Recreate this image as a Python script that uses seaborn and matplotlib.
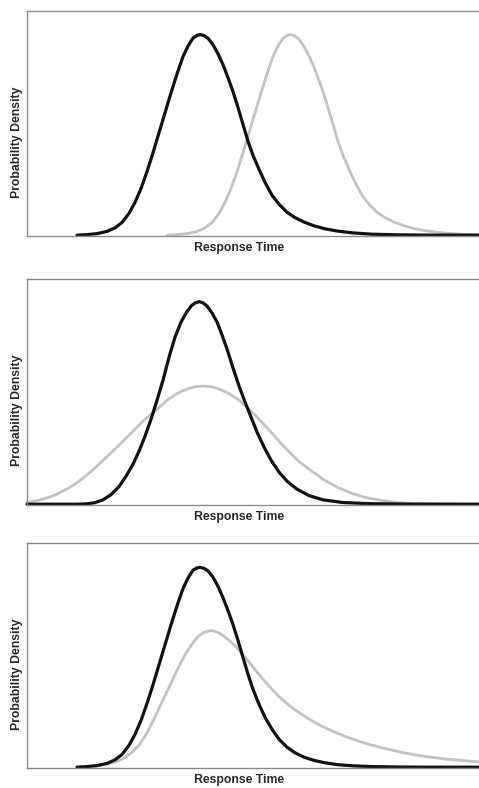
import matplotlib
matplotlib.use("Agg")
import matplotlib.pyplot as plt
import seaborn as sns

# ── curves (x = response time, y = density, arbitrary units)
# panel 1: the whole distribution shifts
p1_fast_x = [50, 60, 70, 80, 88, 95, 102, 108, 114, 120,
             126, 132, 138, 144, 150, 156, 161, 166, 170, 173,
             177, 181, 186, 191, 196, 201, 206, 211, 216, 221,
             226, 232, 238, 245, 252, 260, 268, 277, 287, 298,
             310, 325, 345, 370, 400, 453]
p1_fast_y = [0, 0.003, 0.008, 0.019, 0.037, 0.064, 0.11, 0.165, 0.235, 0.32,
             0.414, 0.515, 0.615, 0.715, 0.81, 0.897, 0.95, 0.989, 1.003, 1.007,
             1.002, 0.988, 0.955, 0.91, 0.855, 0.79, 0.72, 0.64, 0.555, 0.47,
             0.40, 0.33, 0.265, 0.2, 0.155, 0.115, 0.088, 0.066, 0.047, 0.032,
             0.021, 0.012, 0.005, 0.002, 0.0005, 0]
p1_slow_x = [140, 150, 160, 170, 178, 185, 192, 198, 204, 210,
             216, 222, 228, 234, 240, 246, 251, 256, 260, 263,
             267, 271, 276, 281, 286, 291, 296, 301, 306, 311,
             316, 322, 328, 335, 342, 350, 358, 367, 377, 388,
             400, 415, 435, 453]
p1_slow_y = [0, 0.003, 0.008, 0.019, 0.037, 0.064, 0.11, 0.165, 0.235, 0.32,
             0.414, 0.515, 0.615, 0.715, 0.81, 0.897, 0.95, 0.989, 1.003, 1.007,
             1.002, 0.988, 0.955, 0.91, 0.855, 0.79, 0.72, 0.64, 0.555, 0.47,
             0.40, 0.33, 0.265, 0.2, 0.155, 0.115, 0.088, 0.066, 0.047, 0.032,
             0.021, 0.012, 0.005, 0.0025]

# panel 2: same centre, larger spread
p2_fast_x = [0, 50, 60, 68, 76, 84, 92, 99, 106, 112,
             118, 124, 130, 136, 142, 148, 154, 159, 164, 168,
             172, 176, 180, 185, 190, 195, 200, 206, 212, 218,
             224, 230, 237, 244, 252, 260, 270, 282, 296, 315,
             340, 380, 453]
p2_fast_y = [0, 0, 0.002, 0.008, 0.022, 0.048, 0.088, 0.14, 0.2, 0.265,
             0.34, 0.425, 0.52, 0.62, 0.735, 0.835, 0.91, 0.955, 0.99, 1.005,
             1.012, 1.006, 0.99, 0.955, 0.91, 0.845, 0.775, 0.68, 0.59, 0.51,
             0.435, 0.36, 0.285, 0.22, 0.16, 0.115, 0.075, 0.043, 0.022, 0.009,
             0.003, 0.0005, 0]
p2_slow_x = [0, 10, 20, 30, 43, 55, 66, 78, 93, 105,
             117, 128, 140, 150, 160, 168, 176, 184, 192, 202,
             212, 222, 232, 242, 252, 262, 272, 284, 296, 310,
             325, 340, 355, 372, 390, 420, 453]
p2_slow_y = [0.008, 0.018, 0.032, 0.05, 0.085, 0.125, 0.172, 0.228, 0.3, 0.36,
             0.42, 0.465, 0.52, 0.553, 0.576, 0.587, 0.59, 0.587, 0.576, 0.553,
             0.52, 0.475, 0.425, 0.37, 0.315, 0.262, 0.213, 0.168, 0.125, 0.085,
             0.054, 0.032, 0.018, 0.008, 0.003, 0.001, 0]

# panel 3: longer right tail
p3_fast_x = [50, 60, 70, 80, 88, 95, 102, 108, 114, 120,
             126, 132, 138, 144, 150, 156, 161, 166, 170, 173,
             177, 181, 186, 191, 196, 201, 206, 211, 216, 221,
             226, 232, 238, 245, 252, 260, 268, 277, 287, 298,
             310, 325, 345, 370, 400, 453]
p3_fast_y = [0, 0.003, 0.008, 0.019, 0.037, 0.064, 0.11, 0.165, 0.235, 0.32,
             0.414, 0.515, 0.615, 0.715, 0.81, 0.897, 0.95, 0.989, 1.0, 1.003,
             0.998, 0.985, 0.953, 0.907, 0.85, 0.785, 0.715, 0.635, 0.55, 0.465,
             0.39, 0.315, 0.25, 0.19, 0.14, 0.1, 0.072, 0.05, 0.034, 0.022,
             0.013, 0.007, 0.003, 0.001, 0, 0]
p3_slow_x = [60, 70, 80, 90, 98, 105, 112, 118, 124, 130,
             136, 142, 148, 154, 160, 166, 171, 176, 181, 186,
             191, 196, 202, 208, 214, 221, 228, 236, 244, 253,
             262, 272, 283, 295, 308, 322, 338, 355, 374, 395,
             420, 453]
p3_slow_y = [0.003, 0.008, 0.016, 0.028, 0.048, 0.075, 0.11, 0.155, 0.212, 0.275,
             0.338, 0.4, 0.465, 0.527, 0.58, 0.625, 0.655, 0.674, 0.683, 0.684,
             0.676, 0.66, 0.637, 0.61, 0.575, 0.533, 0.49, 0.44, 0.395, 0.349,
             0.31, 0.274, 0.238, 0.205, 0.175, 0.147, 0.12, 0.097, 0.075, 0.056,
             0.04, 0.026]

panels = [
    (p1_fast_x, p1_fast_y, p1_slow_x, p1_slow_y),
    (p2_fast_x, p2_fast_y, p2_slow_x, p2_slow_y),
    (p3_fast_x, p3_fast_y, p3_slow_x, p3_slow_y),
]

sns.set_style("white")
plt.rcParams['font.family'] = ['Liberation Sans', 'DejaVu Sans']

fig = plt.figure(figsize=(4.79, 7.88), dpi=100)

# axes boxes in figure fractions (left, bottom, width, height)
boxes = [
    (0.0564, 0.7005, 0.948, 0.2855),
    (0.0564, 0.3591, 0.948, 0.2868),
    (0.0564, 0.0254, 0.948, 0.2855),
]

for (fx, fy, sx, sy), box in zip(panels, boxes):
    ax = fig.add_axes(box)
    sns.lineplot(x=sx, y=sy, ax=ax, color='#c2c2c2', linewidth=2.0,
                 sort=False, estimator=None)
    sns.lineplot(x=fx, y=fy, ax=ax, color='#111111', linewidth=2.3,
                 sort=False, estimator=None)
    ax.set_xlim(0, 454)
    ax.set_ylim(-0.004, 1.125)
    ax.set_xticks([])
    ax.set_yticks([])
    ax.set_xlabel('')
    ax.set_ylabel('')
    for side in ['left', 'top', 'bottom']:
        ax.spines[side].set_color('#8a8a8a')
        ax.spines[side].set_linewidth(1.0)
    ax.spines['right'].set_visible(False)
    for line in ax.lines:
        line.set_clip_on(False)
    ax.text(0.467, -0.053, 'Response Time', transform=ax.transAxes,
            ha='center', va='center', fontsize=8.8, fontweight='bold')
    ax.text(-0.0215, 0.418, 'Probability Density', transform=ax.transAxes,
            ha='center', va='center', rotation=90, fontsize=8.8,
            fontweight='bold')

fig.savefig('out.png', dpi=100)
